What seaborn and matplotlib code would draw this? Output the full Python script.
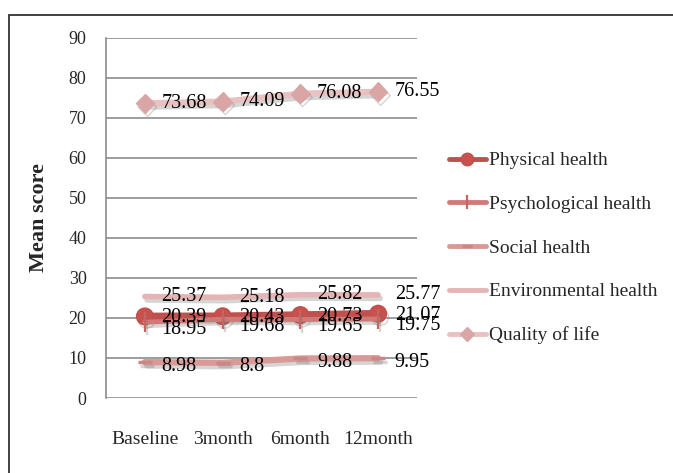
import matplotlib
matplotlib.use("Agg")
import matplotlib.pyplot as plt
import matplotlib.patheffects as pe
from matplotlib.patches import Rectangle
import pandas as pd
import seaborn as sns

timepoints = ["Baseline", "3month", "6month", "12month"]
physical = [20.39, 20.43, 20.73, 21.07]
psychological = [18.95, 19.68, 19.65, 19.75]
social = [8.98, 8.8, 9.88, 9.95]
environmental = [25.37, 25.18, 25.82, 25.77]
quality = [73.68, 74.09, 76.08, 76.55]
y_ticks = [0, 10, 20, 30, 40, 50, 60, 70, 80, 90]

series = [
    ("Physical health", physical, dict(color="#C0504D", lw=5.5, marker="o", ms=12, mfc="#C8504D", mec="#C0504D")),
    ("Psychological health", psychological, dict(color="#D07A78", lw=3.5, marker="|", ms=14, mew=1.6, mfc="#C86462", mec="#C86462")),
    ("Social health", social, dict(color="#D89997", lw=4.5, marker="_", ms=10, mew=2.5, mfc="#CC8785", mec="#CC8785")),
    ("Environmental health", environmental, dict(color="#E4B5B4", lw=4, marker=None)),
    ("Quality of life", quality, dict(color="#E8C2C1", lw=4.5, marker="D", ms=9.5, mfc="#DAA6A5", mec="#DAA6A5")),
]

sns.set_style("white")
plt.rcParams["font.family"] = ["Liberation Serif", "DejaVu Serif"]

fig = plt.figure(figsize=(6.73, 4.73), dpi=100)
ax = fig.add_axes([106 / 673, 1 - 398 / 473, (417 - 106) / 673, (398 - 38) / 473])

shadow = [pe.SimpleLineShadow(offset=(1.5, -2.5), shadow_color="#777777", alpha=0.3), pe.Normal()]

for name, vals, st in series:
    df = pd.DataFrame({"time": timepoints, "score": vals})
    kw = dict(color=st["color"], linewidth=st["lw"], label=name)
    if st.get("marker"):
        kw.update(marker=st["marker"], markersize=st["ms"],
                  markerfacecolor=st.get("mfc", st["color"]),
                  markeredgecolor=st.get("mec", st["color"]),
                  markeredgewidth=st.get("mew", 1.0))
    sns.lineplot(data=df, x="time", y="score", ax=ax, sort=False, **kw)
    ax.lines[-1].set_path_effects(shadow)

# value labels to the right of each point
label_offsets = {
    "Physical health": -1,
    "Psychological health": -5,
    "Social health": -3,
    "Environmental health": 0,
    "Quality of life": 0,
}
for name, vals, st in series:
    for i, v in enumerate(vals):
        ax.annotate(f"{v:g}", (i, v), xytext=(12, label_offsets[name]),
                    textcoords="offset points", ha="left", va="center",
                    fontsize=14.5, color="black")

ax.set_ylim(0, 90)
ax.set_xlim(-0.5, 3.5)
ax.set_yticks(y_ticks)
ax.set_xticks(range(len(timepoints)))
ax.set_xticklabels(timepoints)
ax.yaxis.grid(True, color="#8C8C8C", linewidth=1.2)
ax.xaxis.grid(False)
for side in ["top", "right", "bottom"]:
    ax.spines[side].set_visible(False)
ax.spines["left"].set_color("#8C8C8C")
ax.spines["left"].set_linewidth(1.2)
ax.tick_params(axis="y", length=5, color="#8C8C8C", width=1.2, pad=9, labelsize=13)
ax.tick_params(axis="x", length=0, pad=24, labelsize=14)
ax.set_xlabel("")
ax.set_ylabel("Mean score", fontsize=16, fontweight="bold", labelpad=14)

handles, labels = ax.get_legend_handles_labels()
if ax.get_legend():
    ax.get_legend().remove()
leg = fig.legend(handles, labels, loc="upper left", bbox_to_anchor=(441 / 673, 1 - 144 / 473),
                 frameon=False, fontsize=14, handlelength=1.9, handletextpad=0.15,
                 labelspacing=1.34, borderaxespad=0)
for line in leg.get_lines():
    line.set_linewidth(3.5)
    line.set_markersize(line.get_markersize() * 0.75)
    line.set_path_effects([])

fig.patches.append(Rectangle((8.5 / 673, -0.2), 1.2, 1.2 - 15 / 473,
                             transform=fig.transFigure, fill=False,
                             edgecolor="#333333", linewidth=1.3, zorder=10))

fig.savefig("out.png", dpi=100)
